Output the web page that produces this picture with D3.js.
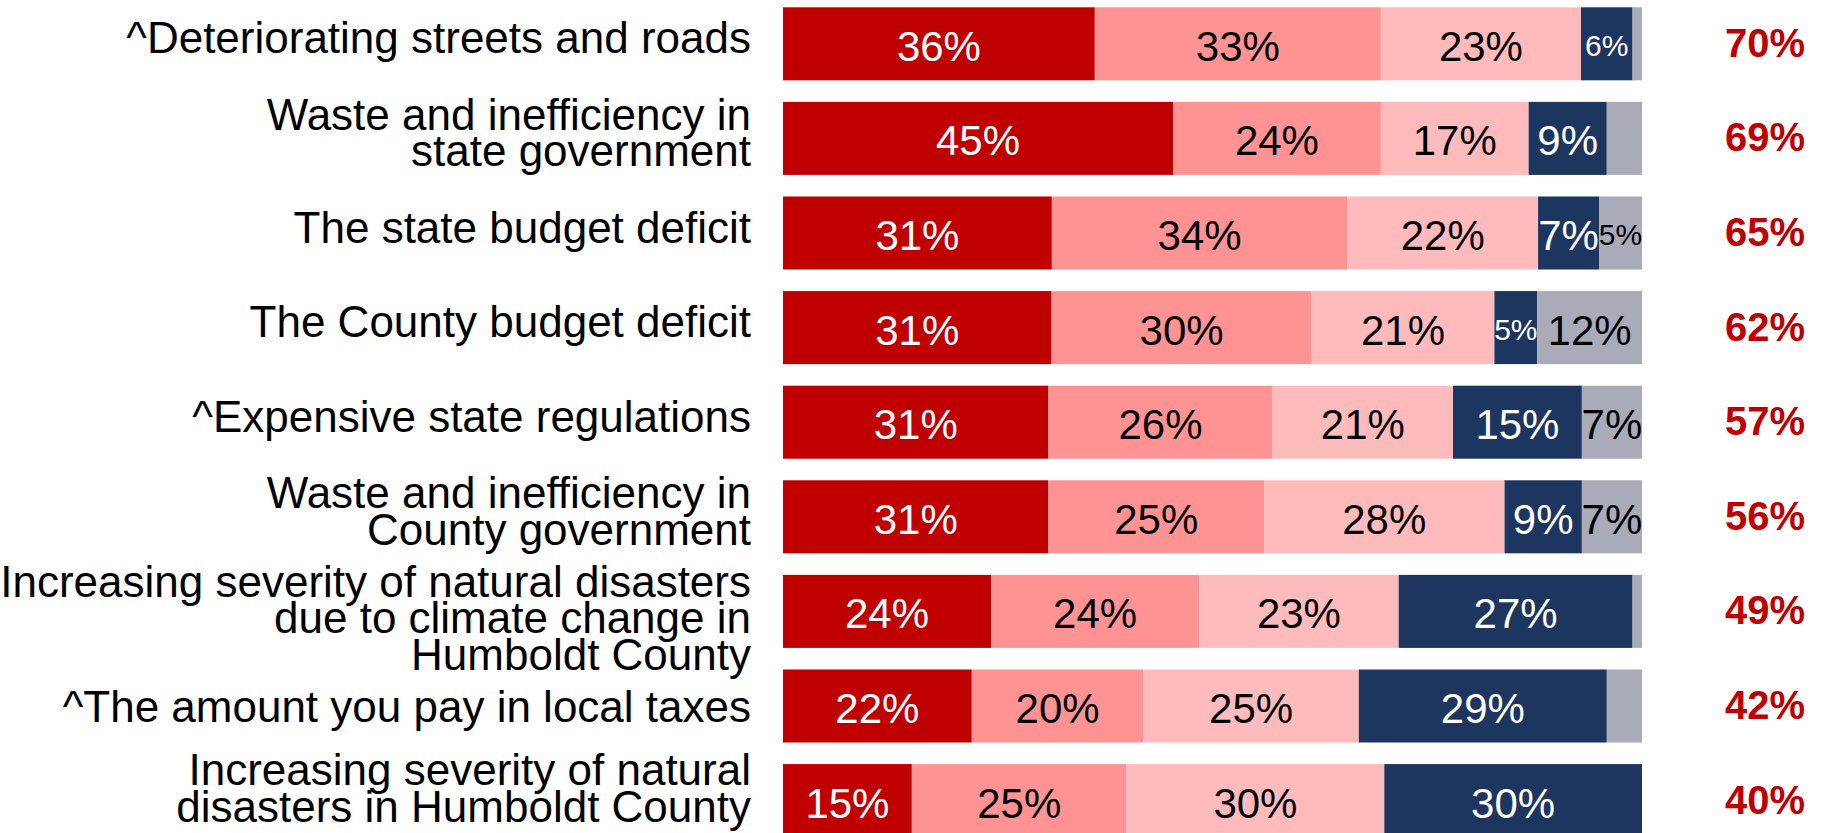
<!DOCTYPE html>
<html>
<head>
<meta charset="utf-8">
<script src="https://cdn.jsdelivr.net/npm/d3@7"></script>
<style>
	body { margin: 0; background: #ffffff; }
	svg { display: block; }
	.cat { font-family: "Liberation Sans", Arial, sans-serif; font-size: 44px; fill: #000000; }
	.seg { font-family: "Liberation Sans", Arial, sans-serif; }
	.total { font-family: "Liberation Sans", Arial, sans-serif; font-size: 40px; font-weight: bold; fill: #C00000; }
</style>
</head>
<body>
<svg id="chart"></svg>
<script>
//
// values (percent of respondents)
//

var labelLines = [
	["^Deteriorating streets and roads"],
	["Waste and inefficiency in", "state government"],
	["The state budget deficit"],
	["The County budget deficit"],
	["^Expensive state regulations"],
	["Waste and inefficiency in", "County government"],
	["Increasing severity of natural disasters", "due to climate change in", "Humboldt County"],
	["^The amount you pay in local taxes"],
	["Increasing severity of natural", "disasters in Humboldt County"]
];

var seriesNames = ["Extremely serious", "Very serious", "Somewhat serious", "Not too serious", "Don't know"];
var seriesColors = ["#C00000", "#FF9393", "#FFBBBB", "#1D365F", "#A9ABB8"];
var seriesText = ["#ffffff", "#000000", "#000000", "#ffffff", "#000000"];

var extremely = [36.3, 45.4, 31.3, 31.3, 30.9, 30.9, 24.2, 22.0, 15.0];
var very      = [33.3, 24.2, 34.4, 30.3, 26.1, 25.1, 24.2, 20.0, 25.0];
var somewhat  = [23.3, 17.2, 22.2, 21.3, 21.0, 28.0, 23.2, 25.1, 30.0];
var notToo    = [6.0, 9.1, 7.1, 5.0, 15.0, 9.0, 27.2, 28.9, 30.0];
var dontKnow  = [1.1, 4.1, 5.0, 12.2, 7.0, 7.0, 1.1, 4.1, 0.0];

var totals = ["70%", "69%", "65%", "62%", "57%", "56%", "49%", "42%", "40%"];

//
//
//

var width = 1826;
var height = 833;

var svg = d3.select("#chart")
	.attr("width", width)
	.attr("height", height);

var categories = labelLines.map(l => l.join(" "));
var columns = [extremely, very, somewhat, notToo, dontKnow];

var rows = categories.map(function(c, i) {
	var r = { cat: c };
	seriesNames.forEach(function(s, j) { r[s] = columns[j][i]; });
	return r;
});

var stack = d3.stack()
	.keys(seriesNames)
	.offset(d3.stackOffsetExpand);
var stacked = stack(rows);

var x = d3.scaleLinear()
	.domain([0, 1])
	.range([783, 1642]);

var y = d3.scaleBand()
	.domain(categories)
	.range([-3.5, 847.9])
	.paddingInner(0.228)
	.paddingOuter(0.114);

// bars
var groups = svg.append("g").selectAll("g")
	.data(stacked)
	.enter()
	.append("g")
		.attr("fill", (d, i) => seriesColors[i]);

groups.selectAll("rect")
	.data(d => d)
	.enter()
	.append("rect")
		.attr("x", d => x(d[0]))
		.attr("y", d => y(d.data.cat))
		.attr("width", d => x(d[1]) - x(d[0]))
		.attr("height", y.bandwidth());

// values inside the segments (small font where the segment is narrow)
stacked.forEach(function(series, i) {
	svg.append("g").selectAll("text")
		.data(series.filter(d => d.data[series.key] >= 4.5))
		.enter()
		.append("text")
			.attr("class", "seg")
			.attr("text-anchor", "middle")
			.attr("fill", seriesText[i])
			.attr("font-size", d => d.data[series.key] < 6.5 ? 30 : 42)
			.attr("x", d => (x(d[0]) + x(d[1])) / 2)
			.attr("y", function(d) {
				var c = y(d.data.cat) + y.bandwidth() / 2;
				return d.data[series.key] < 6.5 ? c + 12 : c + 17;
			})
			.text(d => Math.round(d.data[series.key]) + "%");
});

// category labels: centred on the bar, pushed down when they would hit the
// label above, pulled up when they would run off the bottom
var lineStep = 36.7;
var capH = 31;
var descH = 9;
var prevBottom = -Infinity;

var cats = svg.append("g").selectAll("text")
	.data(labelLines)
	.enter()
	.append("text")
		.attr("class", "cat")
		.attr("text-anchor", "end");

cats.each(function(lines, i) {
	var c = y(categories[i]) + y.bandwidth() / 2;
	var first = c + 9.5 - (lines.length - 1) * lineStep / 2;
	var last = first + (lines.length - 1) * lineStep;
	if (first - capH < prevBottom + 12) {
		var push = prevBottom + 12 - (first - capH);
		first += push; last += push;
	}
	if (last + descH > height - 2) {
		var pull = last + descH - (height - 2);
		first -= pull; last -= pull;
	}
	prevBottom = last + descH;
	d3.select(this).selectAll("tspan")
		.data(lines)
		.enter()
		.append("tspan")
			.attr("x", 751)
			.attr("y", (l, k) => first + k * lineStep)
			.text(l => l);
});

// totals on the right
svg.append("g").selectAll("text")
	.data(totals)
	.enter()
	.append("text")
		.attr("class", "total")
		.attr("text-anchor", "middle")
		.attr("x", 1765)
		.attr("y", (d, i) => y(categories[i]) + y.bandwidth() / 2 + 13)
		.text(d => d);
</script>
</body>
</html>
